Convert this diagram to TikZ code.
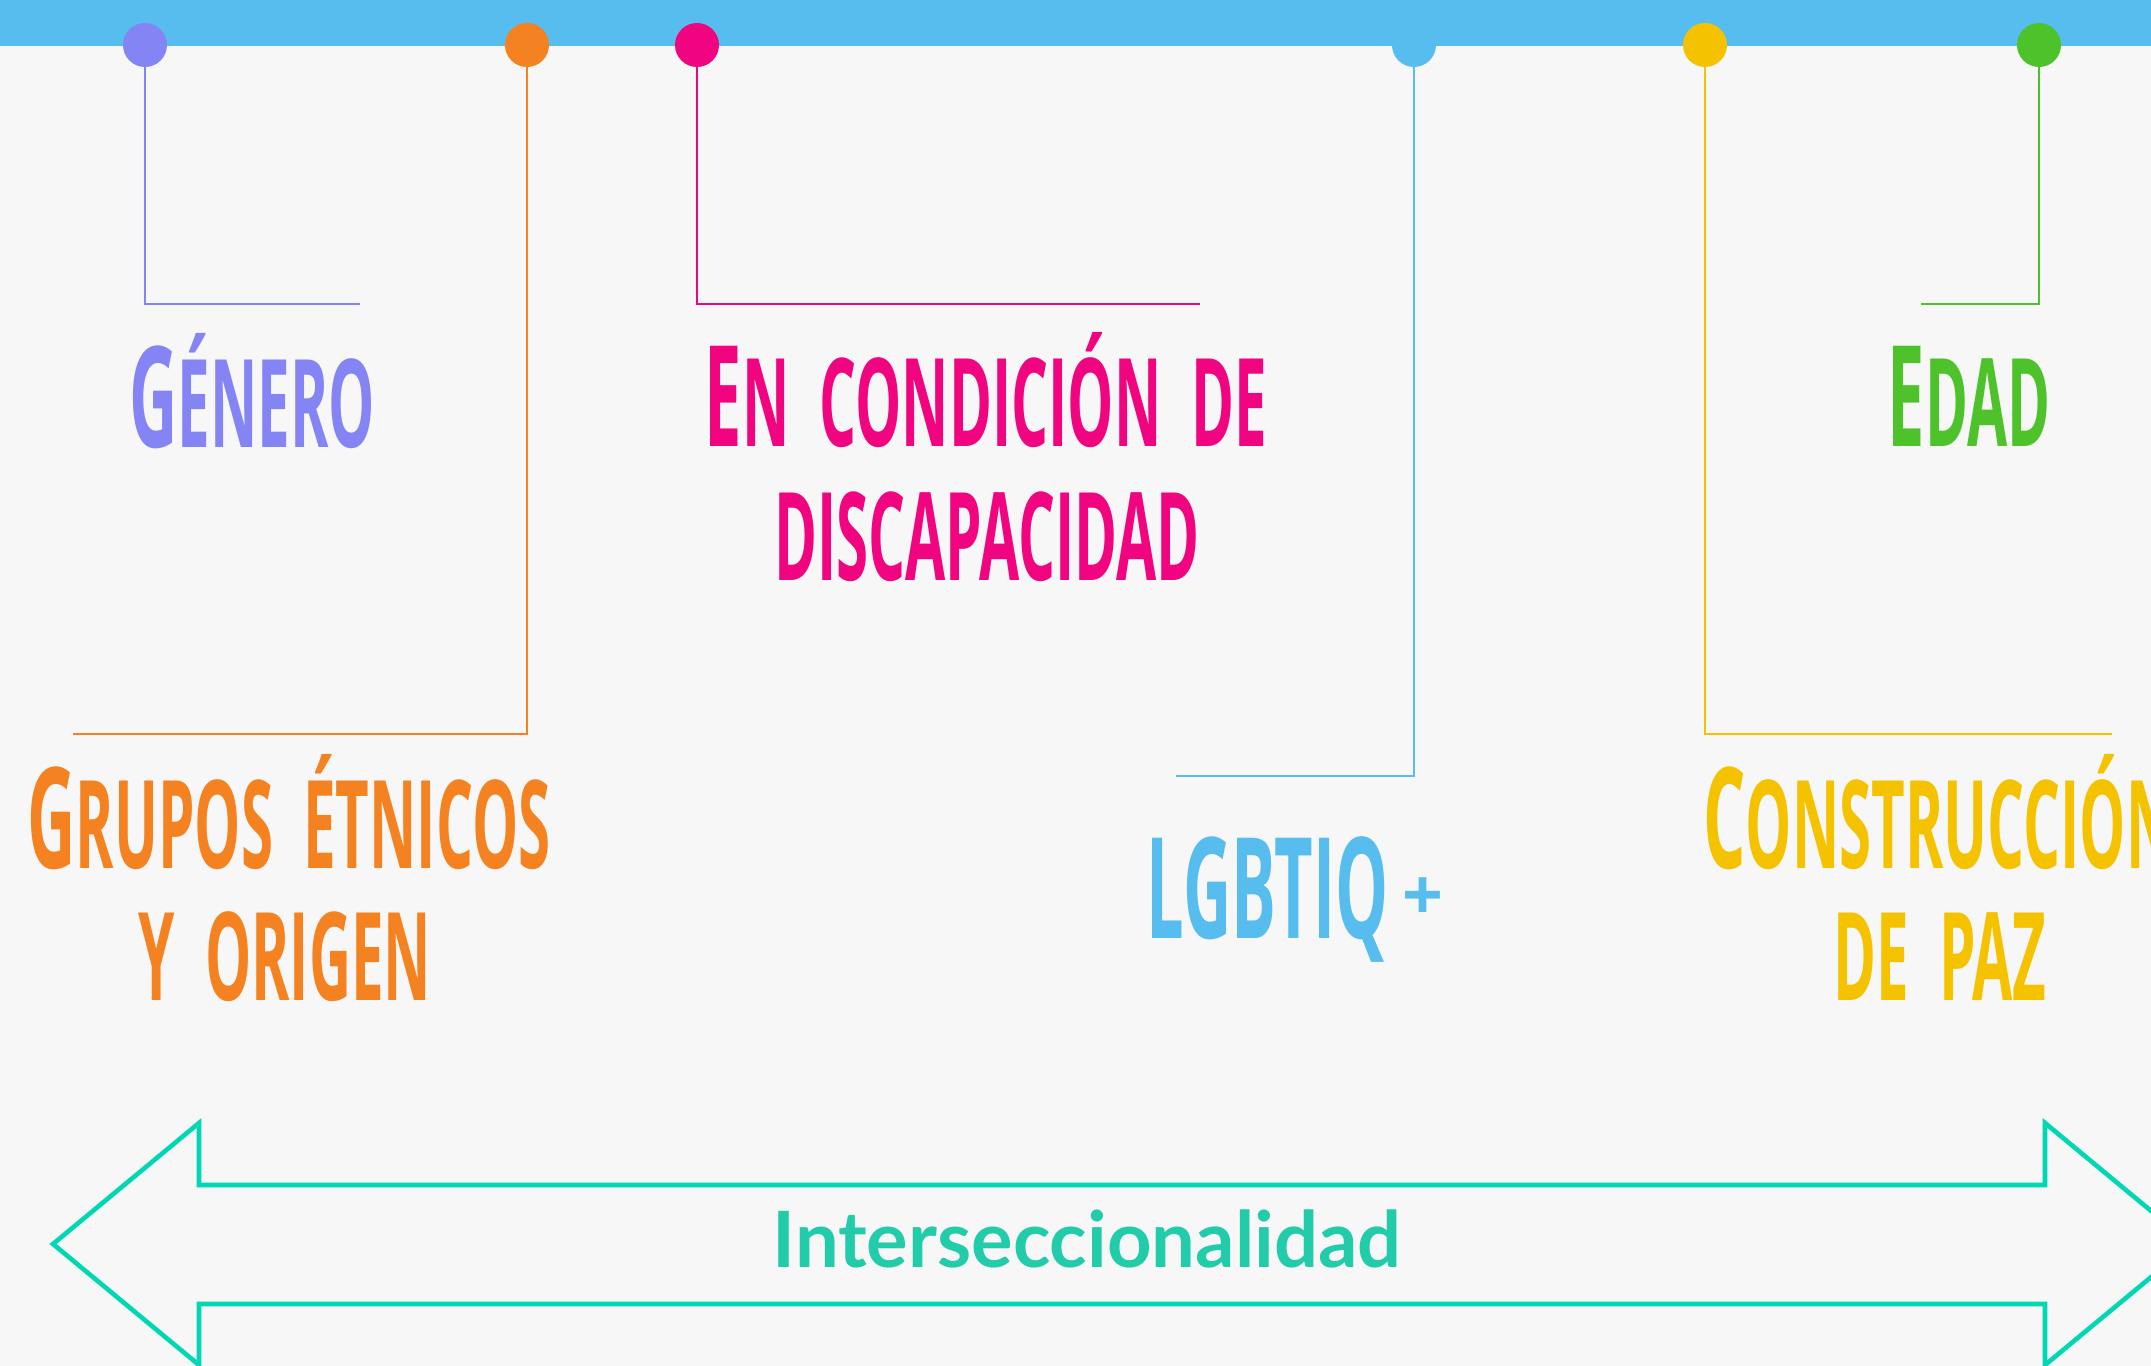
\documentclass[tikz,border=0pt]{standalone}
\usepackage{fontspec}
\newfontfamily\amatic[FakeStretch=0.475]{Open Sans}
\newfontfamily\plainsans{Open Sans}
\newfontfamily\latofont{Lato}
\definecolor{bgcol}{HTML}{F7F7F7}
\definecolor{barblue}{HTML}{56BDEE}
\definecolor{cpurple}{HTML}{8484F4}
\definecolor{corange}{HTML}{F58220}
\definecolor{cmagenta}{HTML}{F0047F}
\definecolor{cblue}{HTML}{56BDEE}
\definecolor{cyellow}{HTML}{F5C200}
\definecolor{cgreen}{HTML}{4EC22A}
\definecolor{cteal}{HTML}{00D8B5}
\definecolor{cteatext}{HTML}{22CCAA}
\newcommand\amBig[1]{{\fontsize{141}{150}\selectfont #1}}
\newcommand\amSm[1]{{\fontsize{123}{130}\selectfont #1}}
\newcommand\amSp{\hspace{30bp}}
\tikzset{
  dot/.style={circle, inner sep=0pt, minimum size=44bp, draw=none},
  conn/.style={line width=2.6bp, line join=miter},
  lbl/.style={inner sep=0pt, anchor=base, font=\amatic\bfseries},
}
\begin{document}
\begin{tikzpicture}[x=1bp,y=-1bp]
\useasboundingbox (0,0) rectangle (2151,1366);
\clip (0,0) rectangle (2151,1366);
\fill[bgcol] (0,0) rectangle (2151,1366);
\fill[barblue] (0,0) rectangle (2151,46);
% dots
\node[dot, fill=cpurple]  (d1) at (145,45) {};
\node[dot, fill=corange]  (d2) at (527,45) {};
\node[dot, fill=cmagenta] (d3) at (697,45) {};
\node[dot, fill=cblue]    (d4) at (1414,45) {};
\node[dot, fill=cyellow]  (d5) at (1705,45) {};
\node[dot, fill=cgreen]   (d6) at (2039,45) {};
% corners and ends
\coordinate (c1) at (145,304);  \coordinate (e1) at (360,304);
\coordinate (c2) at (527,734);  \coordinate (e2) at (73,734);
\coordinate (c3) at (697,304);  \coordinate (e3) at (1200,304);
\coordinate (c4) at (1414,776); \coordinate (e4) at (1176,776);
\coordinate (c5) at (1705,734); \coordinate (e5) at (2112,734);
\coordinate (c6) at (2039,304); \coordinate (e6) at (1921,304);
\draw[conn, cpurple]  (d1) -- (c1) -- (e1);
\draw[conn, corange]  (d2) -- (c2) -- (e2);
\draw[conn, cmagenta] (d3) -- (c3) -- (e3);
\draw[conn, cblue]    (d4) -- (c4) -- (e4);
\draw[conn, cyellow]  (d5) -- (c5) -- (e5);
\draw[conn, cgreen]   (d6) -- (c6) -- (e6);
% labels
\node[lbl, text=cpurple] (genero) at (252,447) {\amBig{G}\amSm{ÉNERO}};
\node[lbl, text=cmagenta] (disc1) at (986,446) {\amBig{E}\amSm{N\amSp CONDICIÓN\amSp DE}};
\node[lbl, text=cmagenta] (disc2) at (987,580) {\amSm{DISCAPACIDAD}};
\node[lbl, text=cgreen] (edad) at (1969,446) {\amBig{E}\amSm{DAD}};
\node[lbl, text=corange] (grupos1) at (289,868) {\amBig{G}\amSm{RUPOS\amSp ÉTNICOS}};
\node[lbl, text=corange] (grupos2) at (285,1000) {\amSm{Y\amSp ORIGEN}};
\node[lbl, text=cblue] (lgbt) at (1295,938) {\amBig{LGBTIQ}\hspace{14bp}\raisebox{18bp}{\plainsans\fontsize{72}{72}\selectfont +}};
\node[lbl, anchor=base west, text=cyellow] (paz1) at (1703,868) {\amBig{C}\amSm{ONSTRUCCIÓN}};
\node[lbl, text=cyellow] (paz2) at (1940,1000) {\amSm{DE\amSp PAZ}};
% double arrow
\draw[cteal, line width=4.6bp, line join=miter]
  (53,1244) -- (199,1123) -- (199,1185) -- (2045,1185) -- (2045,1123)
  -- (2191,1244) -- (2045,1365) -- (2045,1304) -- (199,1304) -- (199,1365) -- cycle;
\node[inner sep=0pt, anchor=base, text=cteatext, font=\latofont\bfseries\fontsize{78}{82}\selectfont] (inter) at (1087,1267) {Interseccionalidad};
\end{tikzpicture}
\end{document}
